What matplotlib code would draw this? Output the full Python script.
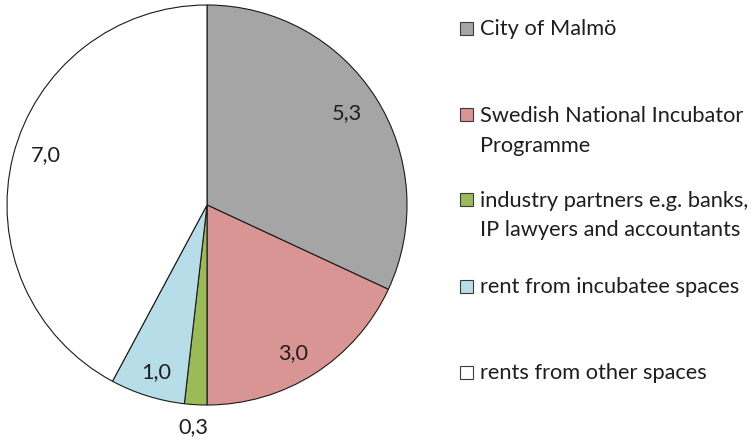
import numpy as np
import matplotlib
matplotlib.use("Agg")
import matplotlib.pyplot as plt
from matplotlib.patches import Rectangle

# ---- data ----
categories = ["City of Malmö",
              "Swedish National Incubator\nProgramme",
              "industry partners e.g. banks,\nIP lawyers and accountants",
              "rent from incubatee spaces",
              "rents from other spaces"]
values = [5.3, 3.0, 0.3, 1.0, 7.0]
value_labels = ["5,3", "3,0", "0,3", "1,0", "7,0"]

# ---- style ----
colors = ["#a5a5a5", "#d99594", "#9bbb59", "#b7dee8", "#ffffff"]
label_radius = [0.836, 0.857, 1.115, 0.875, 0.843]
label_angle_offset = [0.9, -2.2, -0.35, 0.45, -3.2]
W, H, DPI = 756, 441, 100
FONT = "Lato"
TXT = "#1e1e1e"

fig = plt.figure(figsize=(W / DPI, H / DPI), dpi=DPI)
fig.patch.set_facecolor("white")

# pie axes: center (207,205) px, radius 200 px
cx, cy, R = 207, 205, 200
ax = fig.add_axes([(cx - R) / W, (H - cy - R) / H, 2 * R / W, 2 * R / H])
wedges, _ = ax.pie(values, colors=colors, startangle=90, counterclock=False,
                   radius=1.0,
                   wedgeprops=dict(edgecolor="#1a1a1a", linewidth=0.8))
ax.set_xlim(-1, 1)
ax.set_ylim(-1, 1)
ax.set_aspect("equal")
ax.axis("off")

# fit font size so "Swedish National Incubator" is ~265 px wide
renderer = fig.canvas.get_renderer()
probe = fig.text(0, 0, "Swedish National Incubator", fontsize=14, family=FONT)
wpx = probe.get_window_extent(renderer).width
probe.remove()
fs = 14 * 265.0 / wpx

# data labels
for w, lab, rf, off in zip(wedges, value_labels, label_radius, label_angle_offset):
    ang = np.deg2rad((w.theta1 + w.theta2) / 2 + off)
    ax.text(rf * np.cos(ang), rf * np.sin(ang), lab, ha="center", va="center",
            fontsize=fs, family=FONT, color=TXT)

# legend (manual, Excel-like)
baselines = [[35], [121.7, 151.7], [206.7, 235.7], [293], [379]]
cap_px = 14
for cat, col, bl in zip(categories, colors, baselines):
    lines = cat.split("\n")
    for line, b in zip(lines, bl):
        fig.text(480 / W, 1 - b / H, line, ha="left", va="baseline",
                 fontsize=fs, family=FONT, color=TXT)
    mc = bl[0] - cap_px / 2
    fig.patches.append(Rectangle((460 / W, 1 - (mc + 6.5) / H), 13 / W, 13 / H,
                                 transform=fig.transFigure, facecolor=col,
                                 edgecolor="#3a3a3a", linewidth=0.8))

fig.savefig("out.png", dpi=DPI, facecolor="white")
